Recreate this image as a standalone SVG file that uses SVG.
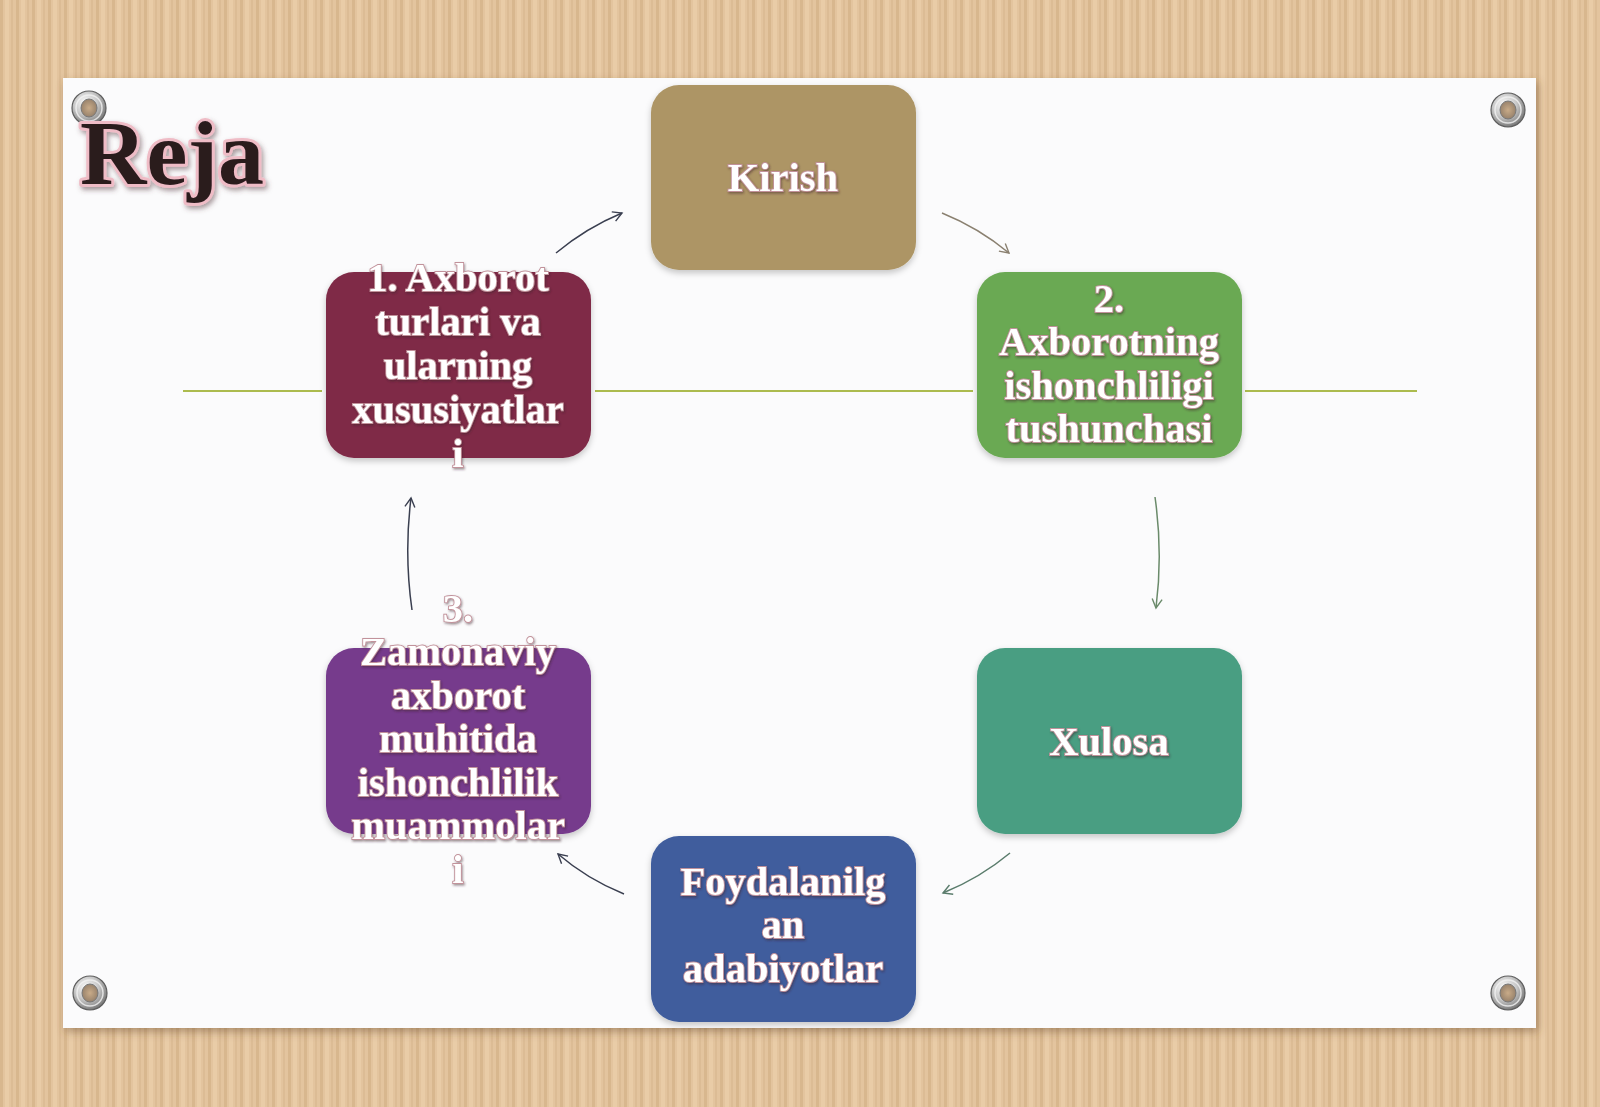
<svg xmlns="http://www.w3.org/2000/svg" width="1600" height="1107" viewBox="0 0 1600 1107">
<defs>
<pattern id="wood" x="0" y="0" width="16" height="1107" patternUnits="userSpaceOnUse">
<rect width="16" height="1107" fill="#e3c49e"/>
<rect x="0" width="3" height="1107" fill="#d8b78e"/>
<rect x="5" width="4" height="1107" fill="#e9cca7"/>
<rect x="11" width="2" height="1107" fill="#dcbc95"/>
</pattern>
<filter id="boardShadow" x="-5%" y="-5%" width="110%" height="110%">
<feDropShadow dx="2" dy="4" stdDeviation="4" flood-color="#6b4a2a" flood-opacity="0.45"/>
</filter>
<filter id="boxShadow" x="-10%" y="-10%" width="120%" height="125%">
<feDropShadow dx="0" dy="3" stdDeviation="3" flood-color="#000" flood-opacity="0.22"/>
</filter>
<filter id="txtShadow" x="-10%" y="-10%" width="120%" height="130%">
<feDropShadow dx="1" dy="1.5" stdDeviation="1" flood-color="#3a1a25" flood-opacity="0.5"/>
</filter>
<filter id="rejaGlow" x="-10%" y="-20%" width="120%" height="140%">
<feDropShadow dx="2" dy="3" stdDeviation="2.5" flood-color="#5a3a40" flood-opacity="0.5"/>
</filter>
<radialGradient id="metal" cx="40%" cy="35%" r="70%">
<stop offset="0" stop-color="#ffffff"/>
<stop offset="0.5" stop-color="#c8c8c8"/>
<stop offset="1" stop-color="#6e6e6e"/>
</radialGradient>
<radialGradient id="hole" cx="50%" cy="50%" r="60%">
<stop offset="0" stop-color="#c9ab88"/>
<stop offset="1" stop-color="#8e7a66"/>
</radialGradient>
<g id="grommet">
<circle r="17" fill="url(#metal)" stroke="#5e5e5e" stroke-width="1.2"/>
<circle r="13" fill="none" stroke="#f2f2f2" stroke-width="1.5" opacity="0.8"/>
<ellipse rx="8" ry="9" fill="url(#hole)" stroke="#777" stroke-width="1"/>
</g>
<marker id="aBrown" viewBox="0 0 12 12" refX="10" refY="6" markerWidth="12" markerHeight="12" markerUnits="userSpaceOnUse" orient="auto">
<path d="M1,1 L10,6 L1,11" fill="none" stroke="#8a8070" stroke-width="1.4"/>
</marker>
<marker id="aGreen" viewBox="0 0 12 12" refX="10" refY="6" markerWidth="12" markerHeight="12" markerUnits="userSpaceOnUse" orient="auto">
<path d="M1,1 L10,6 L1,11" fill="none" stroke="#6a8a6a" stroke-width="1.4"/>
</marker>
<marker id="aTeal" viewBox="0 0 12 12" refX="10" refY="6" markerWidth="12" markerHeight="12" markerUnits="userSpaceOnUse" orient="auto">
<path d="M1,1 L10,6 L1,11" fill="none" stroke="#5a7c6c" stroke-width="1.4"/>
</marker>
<marker id="aDark" viewBox="0 0 12 12" refX="10" refY="6" markerWidth="12" markerHeight="12" markerUnits="userSpaceOnUse" orient="auto">
<path d="M1,1 L10,6 L1,11" fill="none" stroke="#3a3f50" stroke-width="1.4"/>
</marker>
</defs>
<style>
.lbl{font-family:"Liberation Serif","Times New Roman",serif;font-weight:bold;font-size:40.5px;fill:#ffffff;text-anchor:middle;stroke:#c2929b;stroke-width:1.8px;paint-order:stroke;filter:url(#txtShadow)}
.box{filter:url(#boxShadow)}
.arr{fill:none;stroke-width:1.5}
.axis{stroke:#acbb4e;stroke-width:2.2;fill:none}
</style>

<rect width="1600" height="1107" fill="url(#wood)"/>
<rect x="63" y="78" width="1473" height="950" fill="#fbfbfc" filter="url(#boardShadow)"/>

<g id="grommets">
<use href="#grommet" x="89" y="108"/>
<use href="#grommet" x="1508" y="110"/>
<use href="#grommet" x="90" y="993"/>
<use href="#grommet" x="1508" y="993"/>
</g>

<g id="title">
<text x="80" y="184" font-family="Liberation Serif, Times New Roman, serif" font-weight="bold" font-size="92" fill="#2a1a1e" stroke="#efbcc6" stroke-width="6" paint-order="stroke" stroke-linejoin="round" filter="url(#rejaGlow)">Reja</text>
</g>

<g id="axis">
<line class="axis" x1="183" y1="391" x2="322" y2="391"/>
<line class="axis" x1="595" y1="391" x2="973" y2="391"/>
<line class="axis" x1="1245" y1="391" x2="1417" y2="391"/>
</g>

<g id="connectors">
<path class="arr" d="M556,253 Q586,228 622,213" stroke="#3a3f50" marker-end="url(#aDark)"/>
<path class="arr" d="M942,213 Q979,228 1009,253" stroke="#8a8070" marker-end="url(#aBrown)"/>
<path class="arr" d="M1155,497 Q1163,553 1156,608" stroke="#6a8a6a" marker-end="url(#aGreen)"/>
<path class="arr" d="M1010,853 Q980,878 943,893" stroke="#5a7c6c" marker-end="url(#aTeal)"/>
<path class="arr" d="M624,894 Q587,879 558,854" stroke="#3a3f50" marker-end="url(#aDark)"/>
<path class="arr" d="M412,610 Q404,554 411,498" stroke="#3a3f50" marker-end="url(#aDark)"/>
</g>

<g id="node-kirish">
<rect class="box" x="651" y="85" width="265" height="185" rx="28" fill="#ad9565"/>
<text class="lbl" x="783" y="191">Kirish</text>
</g>

<g id="node-1">
<rect class="box" x="326" y="272" width="265" height="186" rx="28" fill="#7f2a47"/>
<text class="lbl" x="458"><tspan x="458" y="291">1. Axborot</tspan><tspan x="458" y="335">turlari va</tspan><tspan x="458" y="379">ularning</tspan><tspan x="458" y="423">xususiyatlar</tspan><tspan x="458" y="467">i</tspan></text>
</g>

<g id="node-2">
<rect class="box" x="977" y="272" width="265" height="186" rx="28" fill="#6aa952"/>
<text class="lbl" x="1109"><tspan x="1109" y="312">2.</tspan><tspan x="1109" y="355">Axborotning</tspan><tspan x="1109" y="399">ishonchliligi</tspan><tspan x="1109" y="442">tushunchasi</tspan></text>
</g>

<g id="node-xulosa">
<rect class="box" x="977" y="648" width="265" height="186" rx="28" fill="#4a9e82"/>
<text class="lbl" x="1109" y="755">Xulosa</text>
</g>

<g id="node-foyda">
<rect class="box" x="651" y="836" width="265" height="186" rx="28" fill="#3f5d9d"/>
<text class="lbl" x="783"><tspan x="783" y="895">Foydalanilg</tspan><tspan x="783" y="938">an</tspan><tspan x="783" y="982">adabiyotlar</tspan></text>
</g>

<g id="node-3">
<rect class="box" x="326" y="648" width="265" height="186" rx="28" fill="#763a8c"/>
<text class="lbl" x="458"><tspan x="458" y="622">3.</tspan><tspan x="458" y="665">Zamonaviy</tspan><tspan x="458" y="709">axborot</tspan><tspan x="458" y="752">muhitida</tspan><tspan x="458" y="796">ishonchlilik</tspan><tspan x="458" y="839">muammolar</tspan><tspan x="458" y="883">i</tspan></text>
</g>
</svg>
